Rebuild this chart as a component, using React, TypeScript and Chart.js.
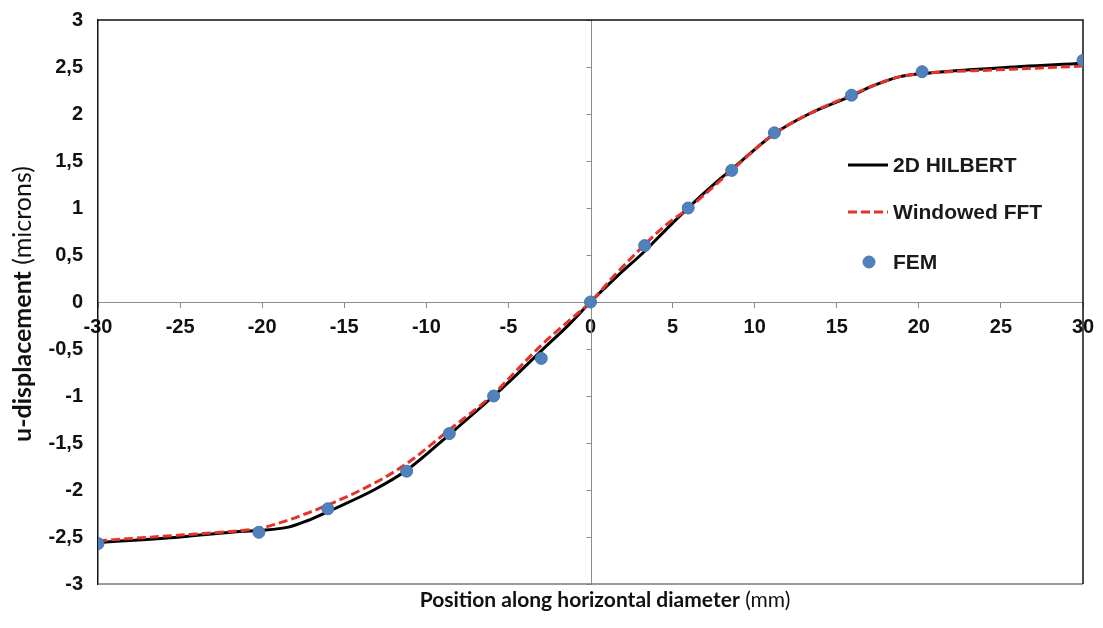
import React, { useEffect, useRef } from "react";
import { Chart, registerables } from "chart.js";
Chart.register(...registerables);

// 2D HILBERT (solid black)
const hilbertX = [-30, -25, -21.2, -20.2, -18.4, -17.3, -16, -13.2, -11.2, -8.6, -5.9, -4.9, -3, -1.25, 0, 1.6, 3.3, 4.6, 6, 7.7, 8.6, 11.2, 13.3, 16, 17, 17.8, 18.8, 20.2, 24.8, 30];
const hilbertY = [-2.56, -2.5, -2.44, -2.43, -2.395, -2.33, -2.23, -2.0, -1.79, -1.41, -1.0, -0.84, -0.52, -0.23, 0, 0.27, 0.54, 0.77, 1.01, 1.28, 1.41, 1.79, 2.0, 2.2, 2.285, 2.34, 2.395, 2.43, 2.49, 2.54];
// Windowed FFT (dashed red)
const fftX = [-30, -25, -21.2, -20.2, -18.4, -17.3, -16, -13.2, -11.2, -8.6, -5.9, -4.9, -3, -1.25, 0, 1.6, 3.3, 4.6, 6, 7.7, 8.6, 11.2, 13.3, 16, 17, 17.8, 18.8, 20.2, 24.8, 30];
const fftY = [-2.54, -2.48, -2.43, -2.41, -2.32, -2.25, -2.16, -1.93, -1.72, -1.36, -0.98, -0.8, -0.46, -0.19, 0, 0.31, 0.61, 0.82, 1.0, 1.26, 1.4, 1.79, 2.0, 2.21, 2.285, 2.34, 2.395, 2.43, 2.47, 2.51];
// FEM (blue dots)
const femX = [-30, -20.2, -16, -11.2, -8.6, -5.9, -3, 0, 3.3, 5.95, 8.6, 11.2, 15.9, 20.2, 30];
const femY = [-2.57, -2.45, -2.2, -1.8, -1.4, -1.0, -0.6, 0, 0.6, 1.0, 1.4, 1.8, 2.2, 2.45, 2.57];

const yTickValues = [-3, -2.5, -2, -1.5, -1, -0.5, 0, 0.5, 1, 1.5, 2, 2.5, 3];
const legendLabels = ["2D HILBERT", "Windowed FFT", "FEM"];
const xTitleBold = "Position along horizontal diameter";
const xTitleRegular = " (mm)";
const yTitleBold = "u-displacement";
const yTitleRegular = " (microns)";

const RED = "#e5332a";
const BLUE = "#4f81bd";
const TICK_FONT = "'Liberation Sans', Arial, sans-serif";
const TITLE_FONT = "Lato, 'Open Sans', sans-serif";

function toPts(xs: number[], ys: number[]) {
  return xs.map((x, i) => ({ x, y: ys[i] }));
}

function drawMixed(ctx: CanvasRenderingContext2D, bold: string, reg: string, size: number) {
  ctx.font = `bold ${size}px ${TITLE_FONT}`;
  const wb = ctx.measureText(bold).width;
  ctx.font = `${size}px ${TITLE_FONT}`;
  const wr = ctx.measureText(reg).width;
  const total = wb + wr;
  ctx.textAlign = "left";
  ctx.textBaseline = "alphabetic";
  ctx.font = `bold ${size}px ${TITLE_FONT}`;
  ctx.fillText(bold, -total / 2, 0);
  ctx.font = `${size}px ${TITLE_FONT}`;
  ctx.fillText(reg, -total / 2 + wb, 0);
}

const decor = {
  id: "decor",
  beforeDatasetsDraw(chart: any) {
    const { ctx, chartArea: a, scales } = chart;
    const x = scales.x, y = scales.y;
    ctx.save();
    const x0 = Math.round(x.getPixelForValue(0)) + 0.5;
    ctx.strokeStyle = "#8c8c8c";
    ctx.lineWidth = 1;
    ctx.beginPath();
    ctx.moveTo(x0, a.top);
    ctx.lineTo(x0, a.bottom);
    for (const v of yTickValues) {
      const py = Math.round(y.getPixelForValue(v)) + 0.5;
      ctx.moveTo(x0 - 5, py);
      ctx.lineTo(x0, py);
    }
    ctx.stroke();
    // bottom border (gray)
    ctx.strokeStyle = "#7a7a7a";
    ctx.lineWidth = 1.5;
    ctx.beginPath();
    ctx.moveTo(a.left, a.bottom);
    ctx.lineTo(a.right, a.bottom);
    ctx.stroke();
    // top and right borders (black)
    ctx.strokeStyle = "#111";
    ctx.lineWidth = 1.5;
    ctx.beginPath();
    ctx.moveTo(a.left, a.top);
    ctx.lineTo(a.right, a.top);
    ctx.lineTo(a.right, a.bottom);
    ctx.stroke();
    ctx.restore();
  },
  afterDraw(chart: any) {
    const { ctx } = chart;
    ctx.save();
    // legend
    const lx1 = 848, lx2 = 888, tx = 893;
    const rows = [165, 212, 262];
    ctx.lineWidth = 3;
    ctx.strokeStyle = "#000";
    ctx.setLineDash([]);
    ctx.beginPath();
    ctx.moveTo(lx1, rows[0]);
    ctx.lineTo(lx2, rows[0]);
    ctx.stroke();
    ctx.strokeStyle = RED;
    ctx.setLineDash([9, 4]);
    ctx.beginPath();
    ctx.moveTo(lx1, rows[1]);
    ctx.lineTo(lx2, rows[1]);
    ctx.stroke();
    ctx.setLineDash([]);
    ctx.fillStyle = BLUE;
    ctx.strokeStyle = "#4675ad";
    ctx.lineWidth = 1;
    ctx.beginPath();
    ctx.arc(869, rows[2], 6, 0, Math.PI * 2);
    ctx.fill();
    ctx.stroke();
    ctx.fillStyle = "#1a1a1a";
    ctx.font = `bold 21px ${TICK_FONT}`;
    ctx.textAlign = "left";
    ctx.textBaseline = "middle";
    legendLabels.forEach((t, i) => ctx.fillText(t, tx, rows[i] + 1));

    // axis titles
    ctx.fillStyle = "#111";
    ctx.save();
    ctx.translate(605, 607);
    drawMixed(ctx, xTitleBold, xTitleRegular, 21);
    ctx.restore();
    ctx.save();
    ctx.translate(31, 304);
    ctx.rotate(-Math.PI / 2);
    drawMixed(ctx, yTitleBold, yTitleRegular, 25);
    ctx.restore();
    ctx.restore();
  },
};

export default function App() {
  const ref = useRef<HTMLCanvasElement>(null);
  useEffect(() => {
    const chart = new Chart(ref.current!, {
      type: "scatter",
      data: {
        datasets: [
          {
            label: legendLabels[2],
            data: toPts(femX, femY),
            showLine: false,
            pointRadius: 6,
            pointBackgroundColor: BLUE,
            pointBorderColor: "#4675ad",
            pointBorderWidth: 1,
            order: 0,
          },
          {
            label: legendLabels[1],
            data: toPts(fftX, fftY),
            showLine: true,
            borderColor: RED,
            borderWidth: 3,
            borderDash: [9, 4],
            pointRadius: 0,
            cubicInterpolationMode: "monotone",
            order: 1,
          },
          {
            label: legendLabels[0],
            data: toPts(hilbertX, hilbertY),
            showLine: true,
            borderColor: "#000",
            borderWidth: 3,
            pointRadius: 0,
            cubicInterpolationMode: "monotone",
            order: 2,
          },
        ] as any,
      },
      options: {
        animation: false,
        responsive: true,
        maintainAspectRatio: false,
        layout: { padding: { top: 20, right: 20, bottom: 44, left: 0 } },
        plugins: { legend: { display: false }, tooltip: { enabled: false } },
        scales: {
          x: {
            type: "linear",
            min: -30,
            max: 30,
            position: { y: 0 } as any,
            ticks: {
              stepSize: 5,
              autoSkip: false,
              maxRotation: 0,
              padding: 8,
              color: "#111",
              font: { family: TICK_FONT, size: 20, weight: "bold" },
            },
            grid: { drawOnChartArea: false, drawTicks: true, tickLength: 5, color: "#8c8c8c" },
            border: { display: true, color: "#8c8c8c", width: 1 },
          },
          y: {
            type: "linear",
            min: -3,
            max: 3,
            position: "left",
            afterFit: (s: any) => {
              s.width = 98;
              s.paddingTop = 0;
              s.paddingBottom = 0;
            },
            ticks: {
              stepSize: 0.5,
              autoSkip: false,
              padding: 15,
              color: "#111",
              font: { family: TICK_FONT, size: 20, weight: "bold" },
              callback: (v: any) => String(v).replace(".", ","),
            },
            grid: { drawOnChartArea: false, drawTicks: false },
            border: { display: true, color: "#111", width: 1.5 },
          },
        },
      },
      plugins: [decor],
    });
    return () => chart.destroy();
  }, []);
  return (
    <div style={{ position: "absolute", left: 0, top: 0, width: 1103, height: 628 }}>
      <canvas ref={ref} />
    </div>
  );
}
